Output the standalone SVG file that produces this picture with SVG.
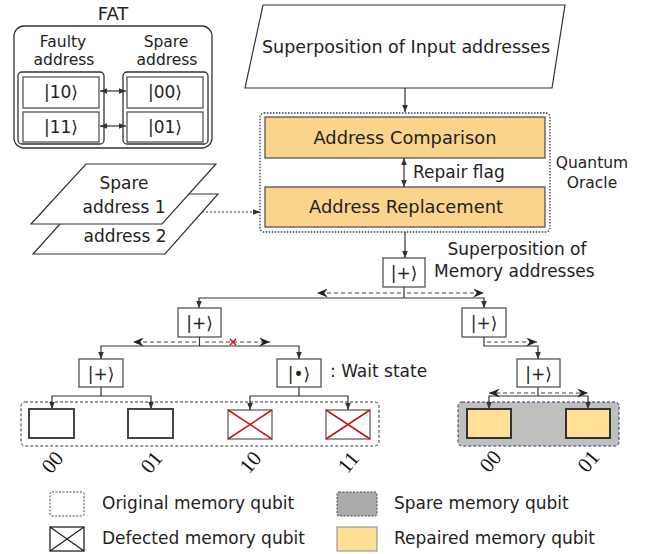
<svg xmlns="http://www.w3.org/2000/svg" width="655" height="554" viewBox="0 0 655 554">
<defs>
<style>
text{font-family:"DejaVu Sans","Liberation Sans",sans-serif;fill:#222}
.t18{font-size:18px}
.t17{font-size:17px}
.t16{font-size:15.5px}
.c{text-anchor:middle}
.frame{fill:#fff;stroke:#333;stroke-width:1.3}
.ket{fill:#fff;stroke:#555;stroke-width:1.3}
.ora{fill:#FAD38C;stroke:#555;stroke-width:1.3}
.leaf{fill:#fff;stroke:#444;stroke-width:2}
.def{fill:#fff;stroke:#777;stroke-width:1.5}
.rx{stroke:#CC1111;stroke-width:1.5}
.rep{fill:#FFE096;stroke:#333;stroke-width:2}
.ln{fill:none;stroke:#333;stroke-width:1.2}
.da{fill:none;stroke:#444;stroke-width:1.2;stroke-dasharray:4 3}
.lbl{font-family:"Liberation Serif","DejaVu Serif",serif;font-size:21px;text-anchor:middle;fill:#111}
</style>
<marker id="ah" markerUnits="userSpaceOnUse" viewBox="0 0 10 10" refX="10" refY="5" markerWidth="7" markerHeight="7" orient="auto-start-reverse"><path d="M0,1 L10,5 L0,9 z" fill="#333"/></marker>
<marker id="st" markerUnits="userSpaceOnUse" viewBox="0 0 12 10" refX="12" refY="5" markerWidth="12" markerHeight="9" orient="auto-start-reverse"><path d="M0,0 L12,5 L0,10 L4,5 z" fill="#222"/></marker>
</defs>

<g id="fat">
<text class="t18 c" x="113" y="20">FAT</text>
<rect class="frame" x="14" y="26" width="198" height="122" rx="10"/>
<text class="t16 c" x="63" y="47">Faulty</text>
<text class="t16 c" x="64" y="65">address</text>
<text class="t16 c" x="166" y="47">Spare</text>
<text class="t16 c" x="167" y="65">address</text>
<rect class="frame" x="18" y="72" width="86" height="72" rx="4"/>
<rect class="ket" x="23" y="77" width="76" height="31"/>
<rect class="ket" x="23" y="112" width="76" height="30"/>
<rect class="frame" x="123" y="72" width="85" height="72" rx="4"/>
<rect class="ket" x="127" y="77" width="76" height="31"/>
<rect class="ket" x="127" y="112" width="76" height="30"/>
<text class="t17 c" x="61" y="98">|10&#x27E9;</text>
<text class="t17 c" x="61" y="133">|11&#x27E9;</text>
<text class="t17 c" x="165" y="98">|00&#x27E9;</text>
<text class="t17 c" x="165" y="133">|01&#x27E9;</text>
</g>

<g id="spare-address">
<polygon points="87,194 218,194 165,254 33,254" fill="#fff" stroke="#333" stroke-width="1.2"/>
<polygon points="86,164 216,164 162,224 31,224" fill="#fff" stroke="#333" stroke-width="1.2"/>
<text class="t17 c" x="124" y="189">Spare</text>
<text class="t17 c" x="124" y="213">address 1</text>
<text class="t17 c" x="125" y="242">address 2</text>
</g>

<g id="input">
<polygon points="263,5 565,5 552,88 245,88" fill="#fff" stroke="#333" stroke-width="1.2"/>
<text class="t18 c" x="406" y="53" textLength="288" lengthAdjust="spacingAndGlyphs">Superposition of Input addresses</text>
</g>

<g id="oracle">
<rect x="260" y="113" width="290" height="119" rx="4" fill="none" stroke="#2B3A67" stroke-width="1.3" stroke-dasharray="1.5 1.5"/>
<rect class="ora" x="265" y="117" width="280" height="41"/>
<text class="t18 c" x="405" y="144" textLength="183" lengthAdjust="spacingAndGlyphs">Address Comparison</text>
<rect class="ora" x="265" y="187" width="280" height="40"/>
<text class="t18 c" x="406" y="213" textLength="194" lengthAdjust="spacingAndGlyphs">Address Replacement</text>
<text class="t17" x="413" y="178">Repair flag</text>
<text class="t16 c" x="592" y="168">Quantum</text>
<text class="t16 c" x="592" y="188">Oracle</text>
</g>

<g id="ket-root">
<rect class="ket" x="383" y="258" width="42" height="29"/>
<text class="t17 c" x="404" y="279">|+&#x27E9;</text>
<text class="t17 c" x="517" y="255">Superposition of</text>
<text class="t17" x="434" y="277">Memory addresses</text>
</g>

<g id="ket-l2-left">
<rect class="ket" x="178" y="308" width="43" height="29"/>
<text class="t17 c" x="199.5" y="329">|+&#x27E9;</text>
</g>
<g id="ket-l2-right">
<rect class="ket" x="462" y="308" width="44" height="29"/>
<text class="t17 c" x="484" y="329">|+&#x27E9;</text>
</g>
<g id="ket-l3-left">
<rect class="ket" x="79" y="359" width="44" height="28"/>
<text class="t17 c" x="101" y="380">|+&#x27E9;</text>
</g>
<g id="ket-wait">
<rect class="ket" x="277" y="359" width="44" height="28"/>
<text class="t17 c" x="299" y="380">|&#x2022;&#x27E9;</text>
<text class="t17" x="330" y="377">: Wait state</text>
</g>
<g id="ket-l3-right">
<rect class="ket" x="517" y="359" width="43" height="28"/>
<text class="t17 c" x="538.5" y="380">|+&#x27E9;</text>
</g>

<g id="original-memory">
<rect x="21" y="402" width="358" height="44" rx="4" fill="none" stroke="#333" stroke-width="1" stroke-dasharray="3 2"/>
<rect class="leaf" x="29" y="409" width="45" height="29"/>
<rect class="leaf" x="128" y="409" width="45" height="29"/>
<rect class="def" x="228" y="410" width="44" height="29"/>
<path class="rx" d="M228,410 L272,439 M228,439 L272,410"/>
<rect class="def" x="326" y="410" width="44" height="29"/>
<path class="rx" d="M326,410 L370,439 M326,439 L370,410"/>
<text class="lbl" transform="translate(52,462) rotate(-50)" dy="0.35em">00</text>
<text class="lbl" transform="translate(151,462) rotate(-50)" dy="0.35em">01</text>
<text class="lbl" transform="translate(250,462) rotate(-50)" dy="0.35em">10</text>
<text class="lbl" transform="translate(348,462) rotate(-50)" dy="0.35em">11</text>
</g>

<g id="spare-memory">
<rect x="458" y="402" width="161" height="44" rx="4" fill="#BFBFBF" stroke="#2B3A67" stroke-width="1" stroke-dasharray="3 2"/>
<rect class="rep" x="467" y="409" width="44" height="29"/>
<rect class="rep" x="566" y="409" width="44" height="29"/>
<text class="lbl" transform="translate(490,461) rotate(-50)" dy="0.35em">00</text>
<text class="lbl" transform="translate(588,461) rotate(-50)" dy="0.35em">01</text>
</g>

<g id="connectors">
<path class="ln" d="M405,88 V112" marker-end="url(#ah)"/>
<path class="ln" d="M405,232 V258" marker-end="url(#ah)"/>
<path class="ln" d="M404,158 V187" marker-start="url(#ah)" marker-end="url(#ah)"/>
<path class="ln" d="M100,91 H126" marker-start="url(#ah)" marker-end="url(#ah)"/>
<path class="ln" d="M100,126 H126" marker-start="url(#ah)" marker-end="url(#ah)"/>
<path class="ln" d="M202,212 H260" stroke-dasharray="2 2" marker-end="url(#ah)"/>
<path class="ln" d="M404,287 V298"/>
<path class="ln" d="M199,308 V298 H484 V308" marker-start="url(#ah)" marker-end="url(#ah)"/>
<path class="ln" d="M199.5,337 V346"/>
<path class="ln" d="M101,359 V346 H299 V359" marker-start="url(#ah)" marker-end="url(#ah)"/>
<path class="ln" d="M484,337 V346 H538 V359" marker-end="url(#ah)"/>
<path class="ln" d="M101,387 V396"/>
<path class="ln" d="M52,409 V396 H151 V409" marker-start="url(#ah)" marker-end="url(#ah)"/>
<path class="ln" d="M299,387 V396"/>
<path class="ln" d="M250,410 V396 H348 V410" marker-start="url(#ah)" marker-end="url(#ah)"/>
<path class="ln" d="M538,387 V396"/>
<path class="ln" d="M489,409 V396 H588 V409" marker-start="url(#ah)" marker-end="url(#ah)"/>
<path class="da" d="M401,293 H317" marker-end="url(#st)"/>
<path class="da" d="M407,293 H484" marker-end="url(#st)"/>
<path class="da" d="M196,342 H133" marker-end="url(#st)"/>
<path class="da" d="M205,342 H270" stroke="#777" marker-end="url(#st)"/>
<path class="rx" d="M230,339 L236,345 M230,345 L236,339"/>
<path class="da" d="M487,342 H537" marker-end="url(#st)"/>
<path class="da" d="M535,393 H489" marker-end="url(#st)"/>
<path class="da" d="M541,393 H588" marker-end="url(#st)"/>
</g>

<g id="legend">
<rect x="50" y="492" width="34" height="24" rx="2" fill="#fff" stroke="#444" stroke-width="1" stroke-dasharray="2 1.5"/>
<text class="t17" x="102" y="509">Original memory qubit</text>
<rect x="50" y="527" width="34" height="24" fill="#fff" stroke="#222" stroke-width="1.3"/>
<path d="M50,527 L84,551 M50,551 L84,527" stroke="#222" stroke-width="1.3"/>
<text class="t17" x="102" y="544">Defected memory qubit</text>
<rect x="337" y="492" width="40" height="24" rx="2" fill="#ABABAB" stroke="#444" stroke-width="1" stroke-dasharray="2 1.5"/>
<text class="t17" x="394" y="509">Spare memory qubit</text>
<rect x="337" y="527" width="40" height="24" fill="#FFDF96" stroke="#888" stroke-width="1"/>
<text class="t17" x="394" y="544">Repaired memory qubit</text>
</g>
</svg>
